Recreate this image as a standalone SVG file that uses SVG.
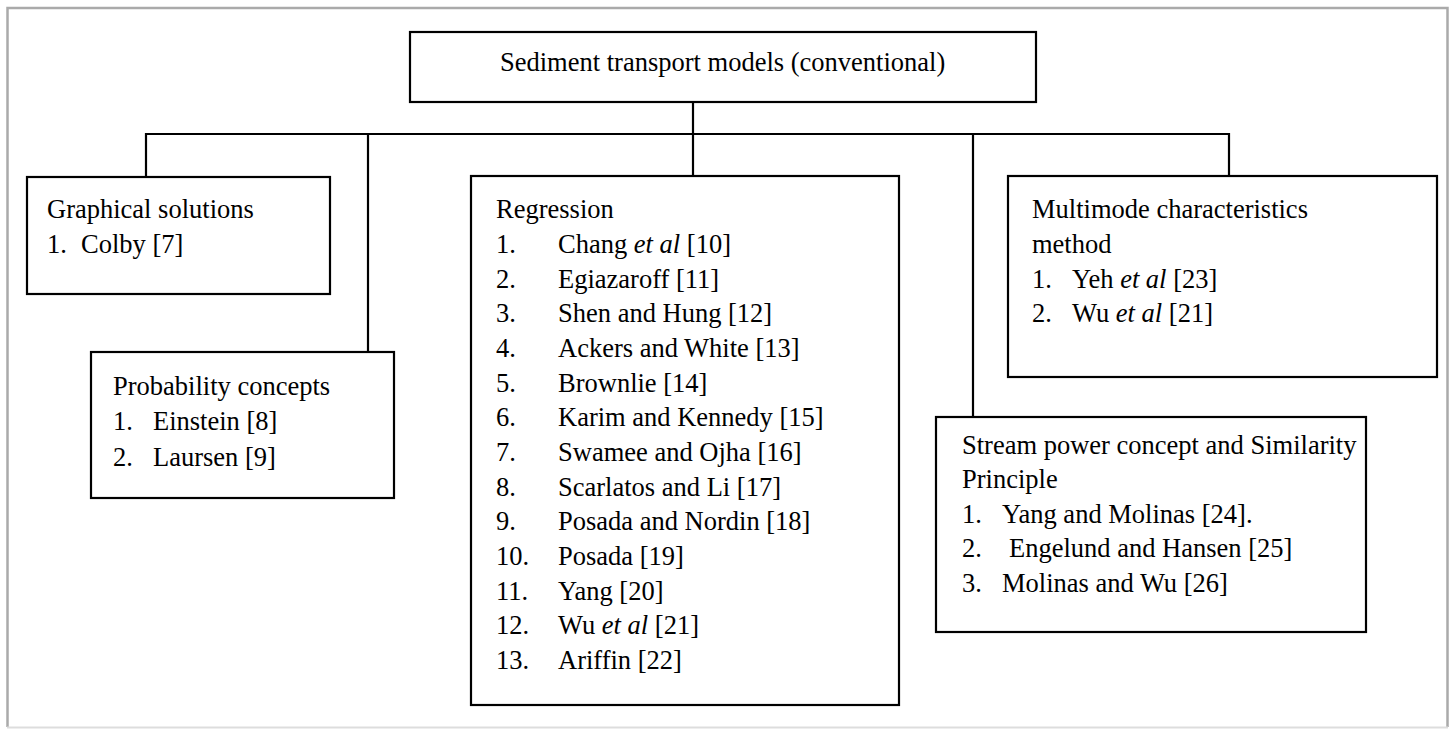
<svg xmlns="http://www.w3.org/2000/svg" width="1454" height="729" viewBox="0 0 1454 729">
<style>
.box{fill:#fff;stroke:#000;stroke-width:2.2}
.t{font-family:"Liberation Serif","Times New Roman",serif;font-size:26.5px;fill:#000}
.it{font-style:italic}
.conn{stroke:#000;stroke-width:2.2;fill:none}
.frame{stroke:#aaa;stroke-width:2.5;fill:none}
</style>
<rect x="0" y="0" width="1454" height="729" fill="#fff"/>
<g id="frame">
<path class="frame" d="M7.5,727 V8 H1447.5 V727"/>
<line x1="7" y1="727.5" x2="1448" y2="727.5" stroke="#ddd" stroke-width="2"/>
</g>
<g id="connectors">
<path class="conn" d="M693,102 V176"/>
<path class="conn" d="M146,176 V134 H1229 V176"/>
<path class="conn" d="M368,135 V352"/>
<path class="conn" d="M973,135 V417"/>
</g>
<g id="root">
<rect class="box" x="410" y="32" width="626" height="70"/>
<text class="t" x="500" y="71">Sediment transport models (conventional)</text>
</g>
<g id="graphical">
<rect class="box" x="27" y="177" width="303" height="117"/>
<text class="t" x="47" y="218">Graphical solutions</text>
<text class="t" x="47" y="253">1.</text><text class="t" x="81" y="253">Colby [7]</text>
</g>
<g id="probability">
<rect class="box" x="91" y="352" width="303" height="146"/>
<text class="t" x="113" y="395">Probability concepts</text>
<text class="t" x="113" y="430">1.</text><text class="t" x="153" y="430">Einstein [8]</text>
<text class="t" x="113" y="466">2.</text><text class="t" x="153" y="466">Laursen [9]</text>
</g>
<g id="regression">
<rect class="box" x="471" y="176" width="428" height="529"/>
<text class="t" x="496" y="218">Regression</text>
<text class="t" x="496" y="253">1.</text><text class="t" x="558" y="253">Chang <tspan class="it">et al</tspan> [10]</text>
<text class="t" x="496" y="288">2.</text><text class="t" x="558" y="288">Egiazaroff [11]</text>
<text class="t" x="496" y="322">3.</text><text class="t" x="558" y="322">Shen and Hung [12]</text>
<text class="t" x="496" y="357">4.</text><text class="t" x="558" y="357">Ackers and White [13]</text>
<text class="t" x="496" y="392">5.</text><text class="t" x="558" y="392">Brownlie [14]</text>
<text class="t" x="496" y="426">6.</text><text class="t" x="558" y="426">Karim and Kennedy [15]</text>
<text class="t" x="496" y="461">7.</text><text class="t" x="558" y="461">Swamee and Ojha [16]</text>
<text class="t" x="496" y="496">8.</text><text class="t" x="558" y="496">Scarlatos and Li [17]</text>
<text class="t" x="496" y="530">9.</text><text class="t" x="558" y="530">Posada and Nordin [18]</text>
<text class="t" x="496" y="565">10.</text><text class="t" x="558" y="565">Posada [19]</text>
<text class="t" x="496" y="600">11.</text><text class="t" x="558" y="600">Yang [20]</text>
<text class="t" x="496" y="634">12.</text><text class="t" x="558" y="634">Wu <tspan class="it">et al</tspan> [21]</text>
<text class="t" x="496" y="669">13.</text><text class="t" x="558" y="669">Ariffin [22]</text>
</g>
<g id="multimode">
<rect class="box" x="1008" y="176" width="429" height="201"/>
<text class="t" x="1032" y="218">Multimode characteristics</text>
<text class="t" x="1032" y="253">method</text>
<text class="t" x="1032" y="288">1.</text><text class="t" x="1072" y="288">Yeh <tspan class="it">et al</tspan> [23]</text>
<text class="t" x="1032" y="322">2.</text><text class="t" x="1072" y="322">Wu <tspan class="it">et al</tspan> [21]</text>
</g>
<g id="stream">
<rect class="box" x="936" y="417" width="430" height="215"/>
<text class="t" x="962" y="454">Stream power concept and Similarity</text>
<text class="t" x="962" y="488">Principle</text>
<text class="t" x="962" y="523">1.</text><text class="t" x="1002" y="523">Yang and Molinas [24].</text>
<text class="t" x="962" y="557">2.</text><text class="t" x="1009" y="557">Engelund and Hansen [25]</text>
<text class="t" x="962" y="592">3.</text><text class="t" x="1002" y="592">Molinas and Wu [26]</text>
</g>
</svg>
